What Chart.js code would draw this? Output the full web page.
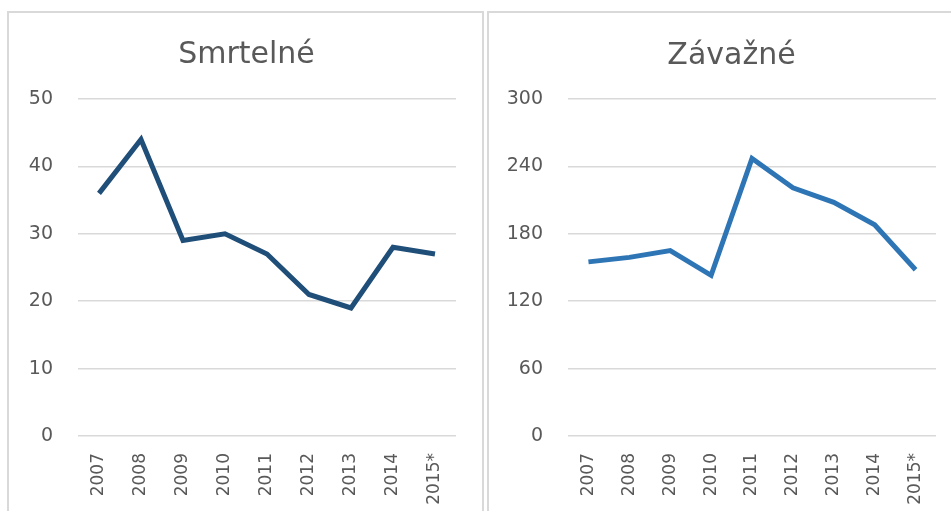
<!DOCTYPE html>
<html>
<head>
<meta charset="utf-8">
<script src="https://cdn.jsdelivr.net/npm/chart.js@4.4.1/dist/chart.umd.min.js"></script>
<style>
  html, body { margin: 0; padding: 0; background: #fff; overflow: hidden; }
  body { width: 951px; height: 511px; position: relative; }
  .panel { position: absolute; border: 2px solid #d9d9d9; box-sizing: border-box; background: #fff; }
  #p1 { left: 7px; top: 11px; width: 477px; height: 520px; }
  #p2 { left: 487px; top: 11px; width: 500px; height: 520px; }
  .panel canvas { position: absolute; left: 0; top: 0; }
</style>
</head>
<body>
<div class="panel" id="p1"><canvas id="c1" width="475" height="499"></canvas></div>
<div class="panel" id="p2"><canvas id="c2" width="485" height="499"></canvas></div>
<script>
// data
const years     = ['2007', '2008', '2009', '2010', '2011', '2012', '2013', '2014', '2015*'];
const smrtelne  = [36, 44, 29, 30, 27, 21, 19, 28, 27];
const zavazne   = [155, 159, 165, 143, 247, 221, 208, 188, 148];

const grey  = '#595959';
const gridC = '#d9d9d9';
const sans  = '"DejaVu Sans", sans-serif';

function makeChart(id, title, values, color, yMax, step, axisW, padRight, titlePad) {
  const ctx = document.getElementById(id);
  return new Chart(ctx, {
    type: 'line',
    data: {
      labels: years,
      datasets: [{
        data: values,
        borderColor: color,
        borderWidth: 5,
        pointRadius: 0,
        tension: 0,
        fill: false
      }]
    },
    options: {
      responsive: false,
      animation: false,
      plugins: {
        legend: { display: false },
        tooltip: { enabled: false },
        title: {
          display: true,
          text: title,
          color: grey,
          font: { size: 30, family: sans, weight: 'normal', lineHeight: 1.2 },
          padding: titlePad
        }
      },
      scales: {
        x: {
          offset: true,
          grid: { display: false },
          border: { display: false },
          ticks: {
            color: grey, padding: 9,
            minRotation: 90, maxRotation: 90,
            font: { size: 17, family: sans }
          },
          afterFit: s => { s.height = 76; }
        },
        y: {
          min: 0, max: yMax,
          grid: { color: gridC, lineWidth: 1.5, drawTicks: false },
          border: { display: false },
          ticks: {
            stepSize: step, color: grey, padding: 25,
            font: { size: 19, family: sans }
          },
          afterFit: s => { s.width = axisW; }
        },
        // empty right gutter so the title stays centred on the whole panel
        gutter: {
          type: 'linear', position: 'right',
          grid: { display: false },
          border: { display: false },
          ticks: { display: false },
          afterFit: s => { s.width = padRight; }
        }
      }
    }
  });
}

makeChart('c1', 'Smrtelné', smrtelne, '#1f4e79', 50, 10, 69, 28, { top: 24, bottom: 26 });
makeChart('c2', 'Závažné', zavazne, '#2e75b6', 300, 60, 79, 38, { top: 25, bottom: 25 });
</script>
</body>
</html>
